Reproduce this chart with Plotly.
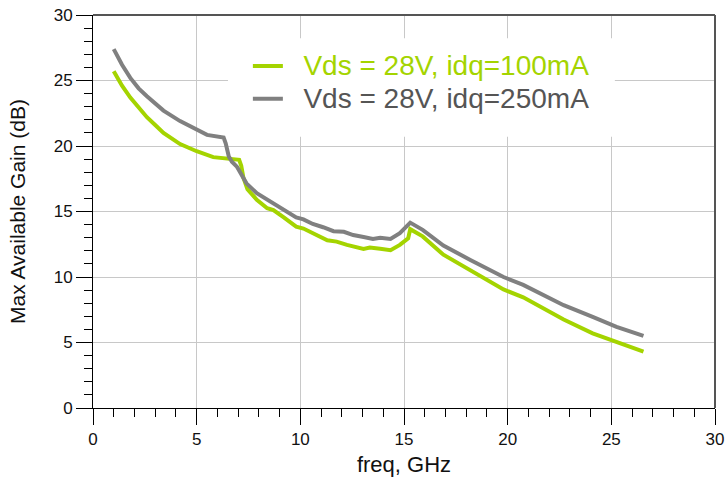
import plotly.graph_objects as go

# Max available gain vs frequency, two bias points
freq_100 = [1.0, 1.4, 1.8, 2.2, 2.6, 3.0, 3.4, 4.2, 5.0, 5.8, 6.6, 7.05, 7.15, 7.25, 7.45,
            7.9, 8.4, 8.7, 9.2, 9.8, 10.15, 10.6, 11.3, 11.75, 12.25, 13.05, 13.35, 13.85,
            14.35, 14.8, 15.2, 15.3, 15.9, 16.9, 18.2, 19.8, 20.75, 21.7, 22.7, 24.1, 25.25, 26.55]
gain_100 = [25.7, 24.6, 23.7, 22.9, 22.2, 21.6, 21.0, 20.15, 19.6, 19.15, 19.0, 18.95, 18.5,
            17.6, 16.7, 15.9, 15.25, 15.1, 14.55, 13.85, 13.7, 13.35, 12.8, 12.7, 12.45, 12.15,
            12.25, 12.15, 12.05, 12.45, 12.95, 13.65, 13.1, 11.7, 10.55, 9.05, 8.45, 7.6, 6.75,
            5.7, 5.05, 4.3]

freq_250 = [1.0, 1.4, 1.8, 2.2, 2.6, 3.0, 3.4, 4.2, 5.0, 5.5, 6.3, 6.4, 6.55, 6.7, 6.95,
            7.4, 7.9, 8.4, 8.7, 9.2, 9.8, 10.15, 10.6, 11.1, 11.6, 12.1, 12.55, 13.05, 13.5,
            13.85, 14.35, 14.8, 15.3, 15.9, 16.9, 18.2, 19.8, 20.75, 21.7, 22.7, 24.1, 25.25, 26.55]
gain_250 = [27.4, 26.2, 25.2, 24.4, 23.8, 23.2, 22.7, 21.9, 21.25, 20.85, 20.65, 20.2, 19.2,
            18.8, 18.4, 17.15, 16.4, 15.9, 15.65, 15.1, 14.55, 14.4, 14.05, 13.8, 13.5, 13.45,
            13.2, 13.05, 12.9, 13.0, 12.9, 13.35, 14.15, 13.6, 12.4, 11.3, 10.0, 9.4, 8.65,
            7.85, 6.95, 6.2, 5.5]

GREEN = "#a4d400"
GRAY = "#808080"
FONT = "Liberation Sans, Arial, sans-serif"

fig = go.Figure()

fig.add_trace(go.Scatter(
    x=freq_100, y=gain_100, mode="lines",
    name=f"<span style='color:{GREEN};font-size:28px'>&nbsp;&nbsp;Vds = 28V, idq=100mA</span>",
    line=dict(color=GREEN, width=4)
))
fig.add_trace(go.Scatter(
    x=freq_250, y=gain_250, mode="lines",
    name="<span style='color:#555555;font-size:28px'>&nbsp;&nbsp;Vds = 28V, idq=250mA</span>",
    line=dict(color=GRAY, width=4)
))

# white box behind the legend, covering the grid
fig.add_shape(type="rect", xref="x domain", yref="y domain",
              x0=0.217, x1=0.839, y0=0.69, y1=0.941,
              fillcolor="white", line_width=0, layer="above")
# top and right frame (paper refs so the line is not clipped)
fig.add_shape(type="line", xref="paper", yref="paper", x0=0, x1=1, y0=1, y1=1,
              line=dict(color="#555555", width=2), layer="above")
fig.add_shape(type="line", xref="paper", yref="paper", x0=1, x1=1, y0=0, y1=1,
              line=dict(color="#555555", width=2), layer="above")

tick_font = dict(family=FONT, size=17, color="#111111")

fig.update_layout(
    width=725, height=492,
    paper_bgcolor="white", plot_bgcolor="white",
    margin=dict(l=93, r=10, t=15, b=84),
    font=dict(family=FONT, color="#111111"),
    showlegend=True,
    legend=dict(x=0.249, y=0.925, xanchor="left", yanchor="top",
                bgcolor="rgba(0,0,0,0)", itemwidth=30, tracegroupgap=0,
                font=dict(size=23, family=FONT)),
    xaxis=dict(range=[0, 30], dtick=5, tick0=0, showline=True, linecolor="black", linewidth=1,
               ticks="outside", ticklen=16, tickcolor="black", tickwidth=1,
               showgrid=True, gridcolor="#c8c8c8", gridwidth=1, zeroline=False,
               tickfont=tick_font, ticklabelstandoff=0, automargin=False,
               ticklabeloverflow="allow",
               minor=dict(dtick=1, ticks="outside", ticklen=8, tickcolor="black", showgrid=False),
               title=dict(text="freq, GHz", font=dict(size=22), standoff=8)),
    yaxis=dict(range=[0, 30], dtick=5, tick0=0, showline=True, linecolor="black", linewidth=1,
               ticks="outside", ticklen=16, tickcolor="black", tickwidth=1,
               showgrid=True, gridcolor="#c8c8c8", gridwidth=1, zeroline=False,
               tickfont=tick_font, automargin=False, ticklabeloverflow="allow",
               minor=dict(dtick=1, ticks="outside", ticklen=8, tickcolor="black", showgrid=False),
               title=dict(text="Max Available Gain (dB)", font=dict(size=21), standoff=22)),
)

# drop the default page margin so the figure sits at the window corner
fig.write_html("out.html", config={"displayModeBar": False},
               post_script="document.body.style.margin='0';")
